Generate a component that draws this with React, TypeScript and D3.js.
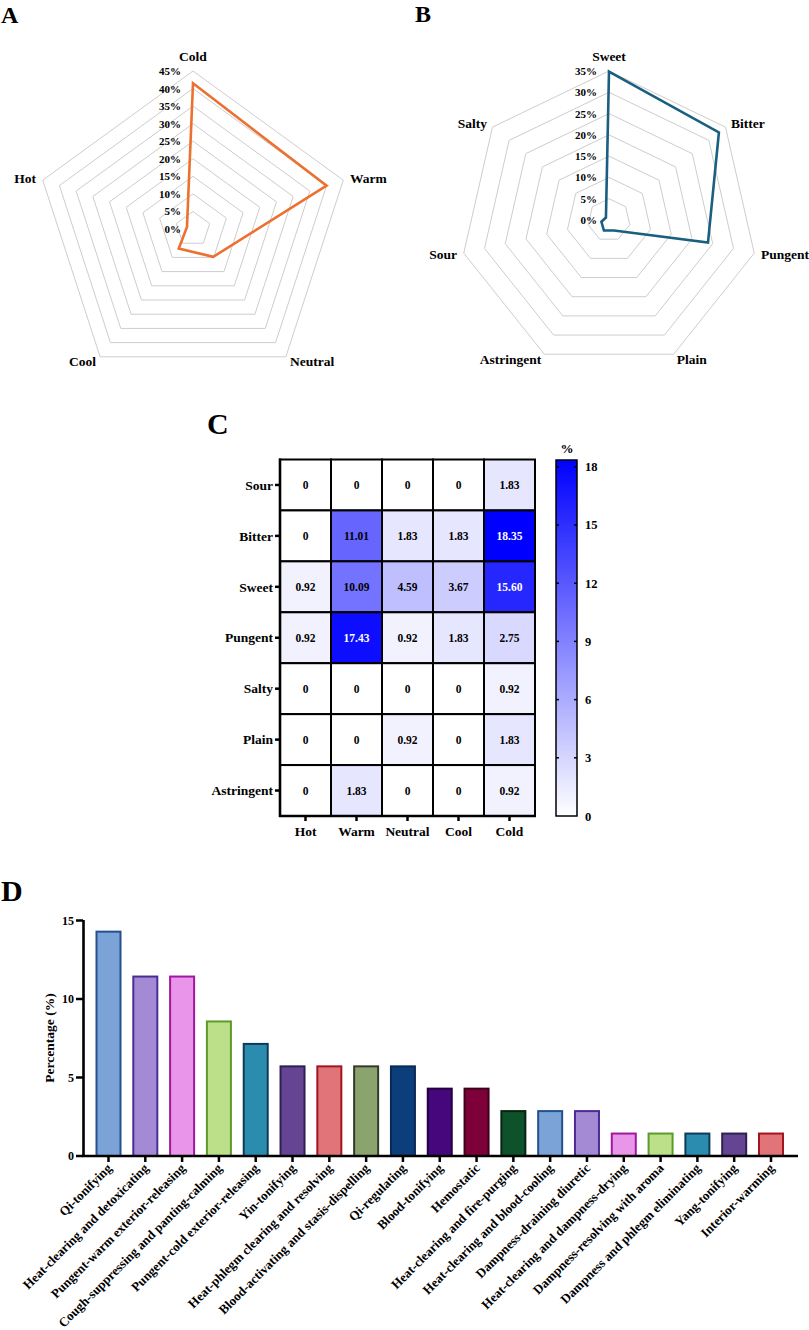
import React from "react";
import * as d3 from "d3";

// ---------- DATA ----------
const natureAxes = ["Cold", "Warm", "Neutral", "Cool", "Hot"];
const natureValues = [41.5, 40.0, 9.8, 6.9, 1.8];
const natureTicks = [0, 5, 10, 15, 20, 25, 30, 35, 40, 45];

const flavorAxes = ["Sweet", "Bitter", "Pungent", "Plain", "Astringent", "Sour", "Salty"];
const flavorValues = [34.87, 33.02, 23.85, 2.75, 2.75, 1.83, 0.92];
const flavorTicks = [0, 5, 10, 15, 20, 25, 30, 35];

const heatCols = ["Hot", "Warm", "Neutral", "Cool", "Cold"];
const heatRows = ["Sour", "Bitter", "Sweet", "Pungent", "Salty", "Plain", "Astringent"];
const heatSour = [0, 0, 0, 0, 1.83];
const heatBitter = [0, 11.01, 1.83, 1.83, 18.35];
const heatSweet = [0.92, 10.09, 4.59, 3.67, 15.6];
const heatPungent = [0.92, 17.43, 0.92, 1.83, 2.75];
const heatSalty = [0, 0, 0, 0, 0.92];
const heatPlain = [0, 0, 0.92, 0, 1.83];
const heatAstringent = [0, 1.83, 0, 0, 0.92];
const heatMatrix = [heatSour, heatBitter, heatSweet, heatPungent, heatSalty, heatPlain, heatAstringent];
const colorbarTicks = [0, 3, 6, 9, 12, 15, 18];

const effectCategories = [
  "Qi-tonifying",
  "Heat-clearing and detoxicating",
  "Pungent-warm exterior-releasing",
  "Cough-suppressing and panting-calming",
  "Pungent-cold exterior-releasing",
  "Yin-tonifying",
  "Heat-phlegm clearing and resolving",
  "Blood-activating and stasis-dispelling",
  "Qi-regulating",
  "Blood-tonifying",
  "Hemostatic",
  "Heat-clearing and fire-purging",
  "Heat-clearing and blood-cooling",
  "Dampness-draining diuretic",
  "Heat-clearing and dampness-drying",
  "Dampness-resolving with aroma",
  "Dampness and phlegm eliminating",
  "Yang-tonifying",
  "Interior-warming",
];
const effectValues = [14.29, 11.43, 11.43, 8.57, 7.14, 5.71, 5.71, 5.71, 5.71, 4.29, 4.29, 2.86, 2.86, 2.86, 1.43, 1.43, 1.43, 1.43, 1.43];
const effectTicks = [0, 5, 10, 15];
const barFills = ["#7BA3D8", "#A48AD4", "#E995E9", "#BCDF8A", "#2C8CB0", "#654593", "#E07479", "#8BA46E", "#0D3E7C", "#46077C", "#7E0038", "#0D522A"];
const barStrokes = ["#23508F", "#4A2C93", "#A0189F", "#5C9A2C", "#0E3C58", "#2D2150", "#A3141F", "#333A28", "#0A2A55", "#240042", "#3E0019", "#06240F"];

const FONT = "'Liberation Serif', 'Times New Roman', serif";

type RadarProps = {
  cx: number; cy: number; R: number; axes: string[]; values: number[];
  ticks: number[]; color: string;
};

function Radar({ cx, cy, R, axes, values, ticks, color }: RadarProps) {
  const n = axes.length;
  const max = ticks[ticks.length - 1];
  const angle = d3.scaleLinear().domain([0, n]).range([0, 2 * Math.PI]);
  const r = d3.scaleLinear().domain([0, max]).range([0, R]);
  const pt = (i: number, v: number): [number, number] => [
    cx + r(v) * Math.sin(angle(i)),
    cy - r(v) * Math.cos(angle(i)),
  ];
  const line = d3.line().curve(d3.curveLinearClosed);
  const levels = ticks.filter((t) => t > 0);
  return (
    <g>
      {levels.map((l) => (
        <path key={l} d={line(axes.map((_, i) => pt(i, l))) || ""} fill="none" stroke="#cdcdcd" strokeWidth={1} />
      ))}
      <path d={line(values.map((v, i) => pt(i, v))) || ""} fill="none" stroke={color} strokeWidth={2.6} strokeLinejoin="miter" />
      {ticks.map((t) => (
        <text key={t} x={cx - 12} y={cy - r(t) + 4} textAnchor="end" fontSize={11} fontWeight="bold" fontFamily={FONT}>
          {t}%
        </text>
      ))}
      {axes.map((a, i) => {
        const s = Math.sin(angle(i));
        const c = Math.cos(angle(i));
        const [vx, vy] = pt(i, max);
        if (Math.abs(s) < 0.01) {
          return (
            <text key={a} x={vx} y={vy - 10} textAnchor="middle" fontSize={13.5} fontWeight="bold" fontFamily={FONT}>{a}</text>
          );
        }
        return (
          <text key={a} x={vx + 7 * s} y={vy - 6 * c + 4.7} textAnchor={s > 0 ? "start" : "end"} fontSize={13.5} fontWeight="bold" fontFamily={FONT}>{a}</text>
        );
      })}
    </g>
  );
}

function Heatmap() {
  const x = d3.scaleBand().domain(heatCols).range([280, 535]);
  const y = d3.scaleBand().domain(heatRows).range([459.5, 816]);
  const maxV = 18.35;
  const color = d3.scaleLinear<string>().domain([0, maxV]).range(["#ffffff", "#0000ff"]);
  const cb = d3.scaleLinear().domain([0, maxV]).range([816, 460]);
  const bw = x.bandwidth();
  const bh = y.bandwidth();
  return (
    <g fontFamily={FONT} fontWeight="bold">
      <defs>
        <linearGradient id="cbgrad" x1="0" y1="1" x2="0" y2="0">
          <stop offset="0%" stopColor="#ffffff" />
          <stop offset="100%" stopColor="#0000ff" />
        </linearGradient>
      </defs>
      {heatRows.map((row, ri) =>
        heatCols.map((col, ci) => {
          const v = heatMatrix[ri][ci];
          return (
            <g key={row + col}>
              <rect x={x(col)} y={y(row)} width={bw} height={bh} fill={color(v)} stroke="#000" strokeWidth={2} />
              <text x={(x(col) as number) + bw / 2} y={(y(row) as number) + bh / 2 + 4} textAnchor="middle" fontSize={11.5} fill={v > 13 ? "#fff" : "#000"}>
                {v === 0 ? "0" : v.toFixed(2)}
              </text>
            </g>
          );
        })
      )}
      <line x1={280} y1={458.5} x2={280} y2={817} stroke="#000" strokeWidth={2.6} />
      <line x1={279} y1={816} x2={536} y2={816} stroke="#000" strokeWidth={2.6} />
      {heatRows.map((row) => (
        <g key={row}>
          <line x1={275} x2={280} y1={(y(row) as number) + bh / 2} y2={(y(row) as number) + bh / 2} stroke="#000" strokeWidth={2.5} />
          <text x={273} y={(y(row) as number) + bh / 2 + 4.7} textAnchor="end" fontSize={13.5}>{row}</text>
        </g>
      ))}
      {heatCols.map((col) => (
        <g key={col}>
          <line x1={(x(col) as number) + bw / 2} x2={(x(col) as number) + bw / 2} y1={816} y2={821} stroke="#000" strokeWidth={2.5} />
          <text x={(x(col) as number) + bw / 2} y={836} textAnchor="middle" fontSize={13.5}>{col}</text>
        </g>
      ))}
      <rect x={556} y={460} width={21} height={356} fill="url(#cbgrad)" stroke="#000" strokeWidth={1.5} />
      {colorbarTicks.map((t) => (
        <g key={t}>
          {t > 0 && <line x1={556} x2={559} y1={cb(t)} y2={cb(t)} stroke="#000" strokeWidth={1.5} />}
          {t > 0 && <line x1={574} x2={577} y1={cb(t)} y2={cb(t)} stroke="#000" strokeWidth={1.5} />}
          <text x={585} y={cb(t) + 4.5} fontSize={12.5}>{t}</text>
        </g>
      ))}
      <text x={567} y={453} textAnchor="middle" fontSize={13}>%</text>
    </g>
  );
}

function Bars() {
  const x = d3.scalePoint().domain(effectCategories).range([108.5, 771]);
  const y = d3.scaleLinear().domain([0, 15]).range([1156, 920.5]);
  const bw = 24;
  return (
    <g fontFamily={FONT} fontWeight="bold">
      {effectCategories.map((c, i) => {
        const cxp = x(c) as number;
        return (
          <rect key={c} x={cxp - bw / 2} y={y(effectValues[i])} width={bw} height={y(0) - y(effectValues[i])}
            fill={barFills[i % barFills.length]} stroke={barStrokes[i % barStrokes.length]} strokeWidth={2} />
        );
      })}
      <line x1={83.5} x2={83.5} y1={920} y2={1157} stroke="#000" strokeWidth={2.6} />
      <line x1={82} x2={798} y1={1156} y2={1156} stroke="#000" strokeWidth={2.6} />
      {effectTicks.map((t) => (
        <g key={t}>
          <line x1={76} x2={83} y1={y(t)} y2={y(t)} stroke="#000" strokeWidth={2.5} />
          <text x={74} y={y(t) + 4.3} textAnchor="end" fontSize={12}>{t}</text>
        </g>
      ))}
      <text transform="translate(54,1038) rotate(-90)" textAnchor="middle" fontSize={13.5}>Percentage (%)</text>
      {effectCategories.map((c) => {
        const cxp = x(c) as number;
        return (
          <g key={c}>
            <line x1={cxp} x2={cxp} y1={1156} y2={1162} stroke="#000" strokeWidth={2.5} />
            <text transform={`translate(${cxp + 4},${1169}) rotate(-45)`} textAnchor="end" fontSize={13}>{c}</text>
          </g>
        );
      })}
    </g>
  );
}

export default function App() {
  return (
    <svg width={809} height={1330} style={{ position: "absolute", left: 0, top: 0, background: "#fff" }}>
      <rect x={0} y={0} width={809} height={1330} fill="#fff" />
      <g fontFamily={FONT} fontWeight="bold">
        <text x={1} y={22.5} fontSize={24}>A</text>
        <text x={415} y={22} fontSize={24}>B</text>
        <text x={207} y={434} fontSize={30}>C</text>
        <text x={1} y={900.5} fontSize={30}>D</text>
      </g>
      <Radar cx={193} cy={229} R={158} axes={natureAxes} values={natureValues} ticks={natureTicks} color="#EC7030" />
      <Radar cx={609} cy={220} R={149} axes={flavorAxes} values={flavorValues} ticks={flavorTicks} color="#1A5E80" />
      <Heatmap />
      <Bars />
    </svg>
  );
}
